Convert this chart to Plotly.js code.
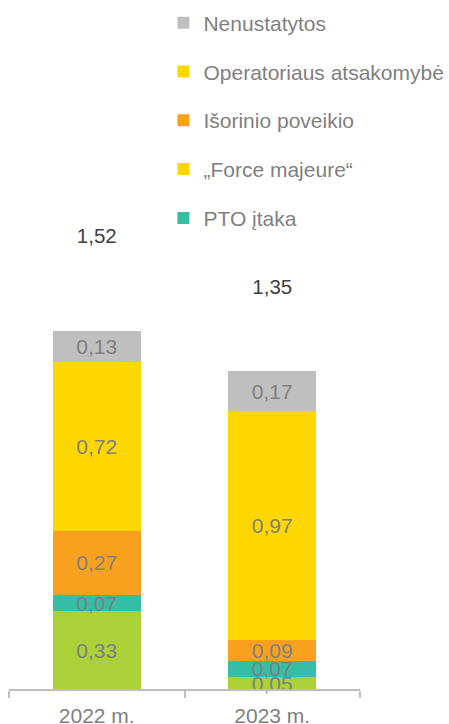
<!DOCTYPE html>
<html><head><meta charset="utf-8">
<script src="https://cdn.plot.ly/plotly-3.0.1.min.js"></script>
<style>html,body{margin:0;padding:0;background:#fff}#c{width:449px;height:724px}</style>
</head><body><div id="c"></div>
<script>
const categories = ['2022 m.', '2023 m.'];
const green = [0.33, 0.05];
const pto = [0.07, 0.07];
const forceMajeure = [0, 0];
const isorinio = [0.27, 0.09];
const operatoriaus = [0.72, 0.97];
const nenustatytos = [0.13, 0.17];
const totals = [1.52, 1.35];

const FONT = 'Liberation Sans, Arial, sans-serif';
const fmt = v => v > 0 ? v.toFixed(2).replace('.', ',') : '';
function bar(name, vals, color, show, rank) {
  return {
    type: 'bar', x: categories, y: vals, name: name, legendgroup: name,
    showlegend: show, legendrank: rank, marker: {color: color, line: {width: 0}},
    text: vals.map(fmt), textposition: 'inside', insidetextanchor: 'middle',
    textfont: {color: '#7f7f7f', size: 21, family: FONT},
    hoverinfo: 'skip', cliponaxis: false
  };
}
const data = [
  bar('', green, '#abd038', false, 6),
  bar('PTO įtaka', pto, '#35bda5', true, 5),
  bar('„Force majeure“', forceMajeure, '#ffd700', true, 4),
  bar('Išorinio poveikio', isorinio, '#f9a11f', true, 3),
  bar('Operatoriaus atsakomybė', operatoriaus, '#ffd700', true, 2),
  bar('Nenustatytos', nenustatytos, '#bfbfbf', true, 1),
  {type: 'scatter', mode: 'text', x: categories, y: totals, yaxis: 'y2',
   text: totals.map(v => v.toFixed(2).replace('.', ',')), showlegend: false,
   textfont: {color: '#404040', size: 20.5, family: FONT},
   hoverinfo: 'skip', cliponaxis: false}
];
const layout = {
  width: 449, height: 724,
  margin: {l: 9, r: 89, t: 10, b: 35, autoexpand: false},
  paper_bgcolor: '#fff', plot_bgcolor: '#fff',
  font: {family: FONT, color: '#7f7f7f', size: 21},
  barmode: 'stack', bargap: 0.5,
  uniformtext: {mode: 'show', minsize: 21},
  xaxis: {type: 'category', showline: true, linecolor: '#bfbfbf', linewidth: 2,
    ticks: 'outside', tickson: 'boundaries', ticklen: 7, tickcolor: '#bfbfbf', tickwidth: 2,
    ticklabelstandoff: 7,
    showgrid: false, zeroline: false, tickfont: {size: 21, color: '#7f7f7f'}},
  yaxis: {range: [0, 2.883], visible: false, showgrid: false, zeroline: false, fixedrange: true},
  yaxis2: {range: [0, 2.29], overlaying: 'y', visible: false, showgrid: false, zeroline: false},
  legend: {x: 0.44, y: 1.011, xanchor: 'left', yanchor: 'top', traceorder: 'grouped',
    tracegroupgap: 18.5, font: {size: 21, color: '#7f7f7f'}, bgcolor: 'rgba(0,0,0,0)'},
  showlegend: true
};
Plotly.newPlot('c', data, layout, {displayModeBar: false, staticPlot: true});
</script></body></html>
